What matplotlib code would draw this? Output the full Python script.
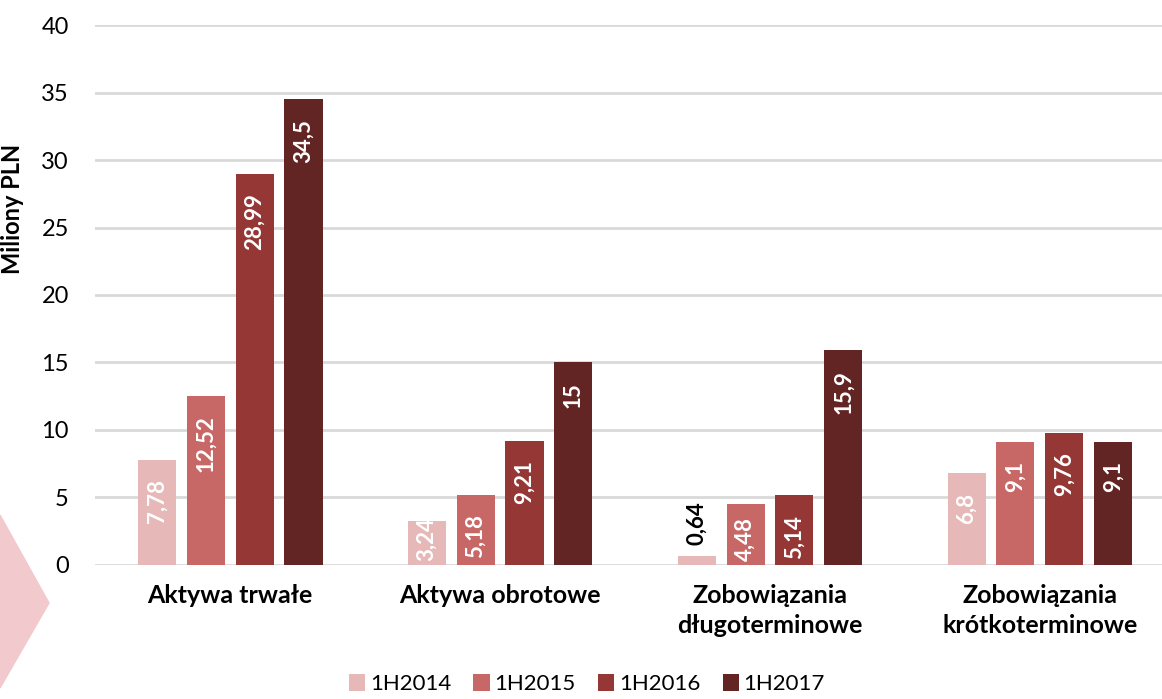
import numpy as np
import matplotlib
matplotlib.use("Agg")
import matplotlib.pyplot as plt
from matplotlib.patches import Polygon

plt.rcParams['font.family'] = ['Lato', 'DejaVu Sans']

categories = ['Aktywa trwałe', 'Aktywa obrotowe', 'Zobowiązania\ndługoterminowe', 'Zobowiązania\nkrótkoterminowe']
series = ['1H2014', '1H2015', '1H2016', '1H2017']
v2014 = [7.78, 3.24, 0.64, 6.8]
v2015 = [12.52, 5.18, 4.48, 9.1]
v2016 = [28.99, 9.21, 5.14, 9.76]
v2017 = [34.5, 15, 15.9, 9.1]
colors = ['#E6B9B8', '#C76867', '#953735', '#632523']

fig = plt.figure(figsize=(11.62, 6.99), dpi=100)
ax = fig.add_axes([0.082, 0.192, 0.929, 0.772])

# decorative chevron on the left
fig.patches.append(Polygon([[0, 1 - 515/699], [49/1162, 1 - 603/699], [0, 1 - 688/699]],
                           closed=True, transform=fig.transFigure, color='#F2C9CC', zorder=0))

x = np.arange(len(categories))
step = 0.181
width = 0.141
allvals = [v2014, v2015, v2016, v2017]
inside = []
for i, (name, vals, c) in enumerate(zip(series, allvals, colors)):
    pos = x + (i - 1.5) * step
    ax.bar(pos, vals, width, color=c, label=name, zorder=3)
    for p, v in zip(pos, vals):
        txt = ('%g' % v).replace('.', ',')
        if v < 2:
            ax.annotate(txt, (p, v), xytext=(0, 8), textcoords='offset points',
                        rotation=90, ha='center', va='bottom', fontsize=16,
                        fontweight='bold', color='black', zorder=4)
        else:
            t = ax.annotate(txt, (p, v), xytext=(0, -14), textcoords='offset points',
                            rotation=90, ha='center', va='top', fontsize=16,
                            fontweight='bold', color='white', zorder=4)
            inside.append((t, p))

ax.set_xlim(-0.5, 3.5)
ax.set_ylim(0, 40)
ax.set_yticks(range(0, 41, 5))
ax.set_xticks(x)
ax.set_xticklabels(categories, fontsize=18, fontweight='bold', linespacing=1.35)
ax.tick_params(axis='y', labelsize=17, length=0, pad=19)
ax.tick_params(axis='x', length=0, pad=14)
ax.grid(axis='y', color='#D9D9D9', linewidth=2, zorder=0)
for s in ax.spines.values():
    s.set_visible(False)
ax.set_ylabel('Miliony PLN', fontsize=17, fontweight='bold')
ax.yaxis.set_label_coords(-0.066, 0.66)

fig.legend(loc='lower center', bbox_to_anchor=(0.505, -0.022), ncol=4, frameon=False,
           fontsize=16, handlelength=0.75, handleheight=0.75, handletextpad=0.2,
           columnspacing=1.0)

# labels that would run below the axis are pushed up to sit on the base
fig.canvas.draw()
r = fig.canvas.get_renderer()
base = ax.transData.transform((0, 0))[1]
for t, p in inside:
    bb = t.get_window_extent(r)
    if bb.y0 < base + 4:
        t.xy = (p, 0)
        t.set_va('bottom')
        t.xyann = (0, 3)

fig.savefig('out.png', dpi=100)
